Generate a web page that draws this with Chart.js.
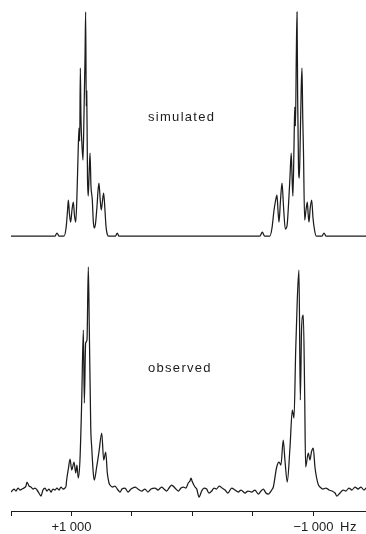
<!DOCTYPE html>
<html>
<head>
<meta charset="utf-8">
<script src="https://cdn.jsdelivr.net/npm/chart.js@4/dist/chart.umd.min.js"></script>
<style>
  body { margin: 0; background: #fff; }
  #page { position: relative; width: 366px; height: 534px; overflow: hidden; background: #fff; }
  .box { position: absolute; left: 0; width: 366px; }
  .lbl { position: absolute; font: 13px "Liberation Sans", Arial, sans-serif; color: #1c1c1c; letter-spacing: 1.3px; line-height: 16px; white-space: nowrap; }
</style>
</head>
<body>
<div id="page">
  <div class="box" style="top:0;height:250px"><canvas id="simChart"></canvas></div>
  <div class="box" style="top:250px;height:284px"><canvas id="obsChart"></canvas></div>
  <div class="lbl" id="simLabel" style="left:148px;top:109px">simulated</div>
  <div class="lbl" id="obsLabel" style="left:148px;top:360px">observed</div>
  <div class="lbl" id="unitLabel" style="left:340px;top:519px;letter-spacing:0.6px">Hz</div>
</div>
<script>
// --- DATA (frequency offset in Hz, intensity in arbitrary units above baseline) ---
const simHz = [1500, 1136, 1120, 1103, 1062, 1045, 1033, 1026, 1017, 1007,
    996, 985, 975, 965, 955, 946, 938, 932, 927, 922,
    913, 905, 897, 888, 883, 878, 874, 868, 862, 855,
    847, 839, 828, 820, 812, 802, 789, 781, 773, 762,
    754, 744, 734, 723, 715, 707, 694, 636, 622, 608,
    -558, -577, -595, -640, -657, -673, -686, -698, -707, -715,
    -727, -740, -752, -767, -781, -793, -806, -816, -824, -830,
    -839, -845, -851, -858, -864, -869, -876, -883, -891, -899,
    -905, -911, -917, -927, -938, -949, -956, -963, -973, -985,
    -996, -1010, -1023, -1070, -1087, -1103, -1434];
const simInt = [0, 0, 3, 0, 0, 8, 25, 36, 22, 14,
    26, 34, 20, 14, 40, 80, 108, 95, 168, 120,
    90, 76, 120, 180, 224, 130, 145, 60, 40, 60,
    83, 50, 36, 15, 8, 12, 30, 45, 53, 35,
    26, 35, 43, 25, 10, 3, 0, 0, 3, 0,
    0, 4, 0, 0, 8, 25, 35, 41, 25, 14,
    35, 53, 30, 7, 10, 30, 60, 83, 55, 40,
    90, 129, 110, 180, 224, 140, 70, 58, 100, 150,
    168, 120, 86, 16, 26, 34, 22, 14, 28, 36,
    18, 5, 0, 0, 3, 0, 0];

const obsHz = [1500, 1475, 1459, 1442, 1426, 1409, 1393, 1376, 1368, 1351,
    1335, 1318, 1302, 1285, 1269, 1252, 1236, 1219, 1203, 1186,
    1169, 1153, 1136, 1120, 1103, 1087, 1070, 1054, 1045,
    1040, 1025, 1012, 998, 979, 965, 955, 944, 930, 916,
    902, 894, 883, 872, 861, 853, 841, 833, 820, 812,
    792, 773, 750, 734, 717, 704, 690,
    682, 661, 641, 616, 599, 583, 558, 533, 508, 475,
    451, 420, 393, 368, 343, 310, 285, 255, 236, 213,
    194, 172, 145, 117, 95, 76, 54, 35, 21, 12,
    4, -7, -21, -35, -54, -76, -95, -117, -136, -159,
    -178, -198, -221, -244, -269, -293, -324, -351, -378, -401,
    -434, -459, -489, -516, -544, -566, -585, -607, -626, -655,
    -668, -696, -715, -731, -750, -764, -783, -806, -825, -839,
    -853, -866, -880, -891, -902, -916, -927, -935, -957, -971,
    -983, -998, -1012, -1026, -1041, -1054,
    -1078, -1103, -1128, -1153, -1178, -1194, -1219, -1244, -1268, -1293,
    -1318, -1343, -1368, -1392, -1417, -1434];
const obsInt = [-2, 1, -1, 2, 0, 1, 2, 4, 8, 4,
    3, 1, 2, 0, -3, -6, 0, 2, -1, 1,
    -2, 1, 0, 2, 0, 3, 1, 2, 4,
    10, 22, 31, 20, 28, 17, 25, 12, 30, 87,
    160, 87, 147, 150, 223, 163, 63, 43, 17, 10,
    23, 38, 57, 30, 38, 17, 7,
    5, 3, 4, 0, -2, 1, 2, -2, 1, 3,
    1, -1, 1, -2, 1, 2, 0, 3, 1, -1,
    2, 5, 2, -1, 2, 3, 2, 7, 9, 12,
    9, 6, 3, 1, -7, -1, 2, 1, -3, -1,
    2, 1, 4, 2, 0, -3, 2, 0, -2, 0,
    -3, -1, -2, 0, -4, -1, 1, -3, -4, 0,
    3, 23, 28, 25, 50, 30, 8, 43, 80, 72,
    140, 190, 220, 90, 163, 175, 97, 23, 37, 30,
    38, 42, 23, 12, 5, 3,
    1, 2, 0, -1, -3, -6, -3, 0, -1, 2,
    0, 3, 1, 3, 0, 2];

const tickHz = [1500, 1000, 500, 0, -500, -1000];
const tickLabels = ['', '+1 000', '', '', '', '\u22121 000'];

const toPoints = (xs, ys) => xs.map((x, i) => ({ x: x, y: ys[i] }));

const INK = '#1c1c1c';
const hzRange = { min: -1434, max: 1500 };

// monotone keeps every peak at its read value but rounds the line between them
function lineDataset(points) {
    return {
        data: points,
        borderColor: INK,
        borderWidth: 1.25,
        pointRadius: 0,
        cubicInterpolationMode: 'monotone',
        fill: false
    };
}

const baseOptions = {
    responsive: true,
    maintainAspectRatio: false,
    animation: false,
    events: [],
    plugins: { legend: { display: false }, tooltip: { enabled: false } },
    layout: { padding: { left: 11, right: 0, top: 0, bottom: 0 } }
};

// --- SIMULATED (top) ---
new Chart(document.getElementById('simChart'), {
    type: 'line',
    data: { datasets: [lineDataset(toPoints(simHz, simInt))] },
    options: {
        ...baseOptions,
        scales: {
            x: { type: 'linear', reverse: true, min: hzRange.min, max: hzRange.max, display: false },
            y: { min: -14, max: 236, display: false }
        }
    }
});

// --- OBSERVED (bottom, carries the Hz axis) ---
// axis box pinned to 23px so the axis line lands where the original has it
new Chart(document.getElementById('obsChart'), {
    type: 'line',
    data: { datasets: [lineDataset(toPoints(obsHz, obsInt))] },
    options: {
        ...baseOptions,
        scales: {
            x: {
                type: 'linear', reverse: true, min: hzRange.min, max: hzRange.max,
                afterBuildTicks: (scale) => { scale.ticks = tickHz.map(v => ({ value: v })); },
                afterFit: (scale) => { scale.height = 23; },
                grid: { drawOnChartArea: false, drawTicks: true, tickLength: 5, color: INK, tickWidth: 1 },
                border: { display: true, color: INK, width: 1 },
                ticks: {
                    autoSkip: false, maxRotation: 0, padding: 4, color: INK,
                    font: { family: '"Liberation Sans", Arial, sans-serif', size: 13 },
                    callback: (v) => tickLabels[tickHz.indexOf(v)] || ''
                }
            },
            y: { min: -21, max: 240, display: false }
        }
    }
});
</script>
</body>
</html>
